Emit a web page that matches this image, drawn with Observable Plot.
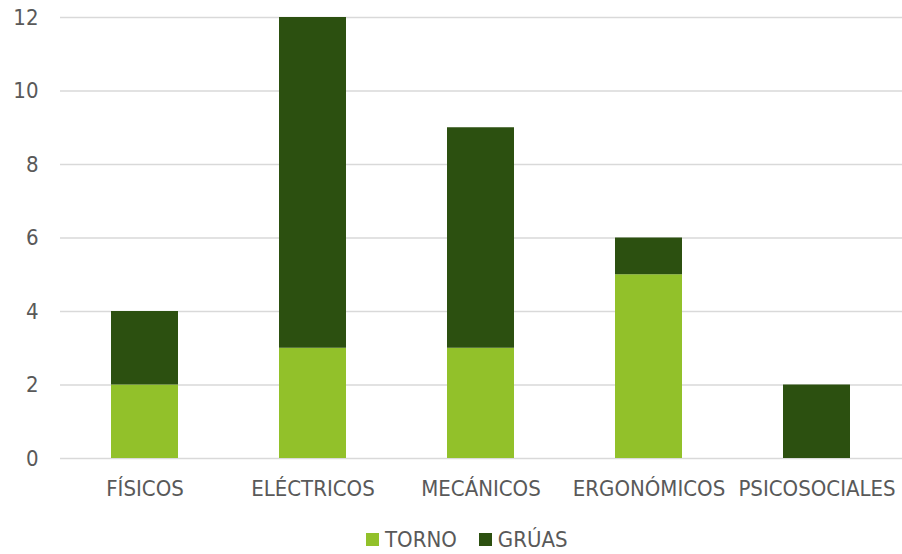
<!DOCTYPE html>
<html>
<head>
<meta charset="utf-8">
<script src="https://cdn.jsdelivr.net/npm/d3@7"></script>
<script src="https://cdn.jsdelivr.net/npm/@observablehq/plot@0.6"></script>
<style>
  body { margin: 0; background: #fff; font-family: "DejaVu Sans Condensed", "DejaVu Sans", sans-serif; }
  #chart { width: 902px; }
  .legend { display: flex; align-items: center; height: 30px; padding-top: 14px; margin-left: 366px; font-size: 22px; color: #595959; }
  .legend .item { display: flex; align-items: center; margin-right: 22px; }
  .legend .sw { width: 13px; height: 13px; margin-right: 6px; }
</style>
</head>
<body>
<div id="chart"></div>
<script>
const categories = ["FÍSICOS", "ELÉCTRICOS", "MECÁNICOS", "ERGONÓMICOS", "PSICOSOCIALES"];
const series = ["TORNO", "GRÚAS"];
const torno = [2, 3, 3, 5, 0];
const gruas = [2, 9, 6, 1, 2];
const colors = ["#92c12a", "#2c5010"];
const yTicks = [0, 2, 4, 6, 8, 10, 12];

const data = [];
categories.forEach((c, i) => {
  data.push({cat: c, serie: series[0], value: torno[i]});
  data.push({cat: c, serie: series[1], value: gruas[i]});
});

const chart = Plot.plot({
  width: 902,
  height: 510,
  marginLeft: 60,
  marginRight: 0,
  marginTop: 17,
  marginBottom: 52,
  style: {fontFamily: '"DejaVu Sans Condensed", "DejaVu Sans", sans-serif', fontSize: "22px", color: "#595959", background: "#fff"},
  x: {domain: categories, paddingInner: 0.6, paddingOuter: 0.3, label: null, tickSize: 0, tickPadding: 22},
  y: {domain: [0, 12], ticks: yTicks, label: null, tickSize: 0, tickPadding: 22},
  color: {domain: series, range: colors},
  marks: [
    Plot.ruleY(yTicks, {stroke: "#d9d9d9", strokeWidth: 1.5}),
    Plot.barY(data, Plot.stackY({x: "cat", y: "value", fill: "serie", order: series})),
    Plot.axisX({tickSize: 0, tickPadding: 22, fontSize: 22}),
    Plot.axisY({ticks: yTicks, tickSize: 0, tickPadding: 22, fontSize: 22})
  ]
});
document.getElementById("chart").appendChild(chart);

const legend = document.createElement("div");
legend.className = "legend";
series.forEach((s, i) => {
  const item = document.createElement("div");
  item.className = "item";
  const sw = document.createElement("div");
  sw.className = "sw";
  sw.style.background = colors[i];
  const t = document.createElement("span");
  t.textContent = s;
  item.appendChild(sw);
  item.appendChild(t);
  legend.appendChild(item);
});
document.getElementById("chart").appendChild(legend);
</script>
</body>
</html>
